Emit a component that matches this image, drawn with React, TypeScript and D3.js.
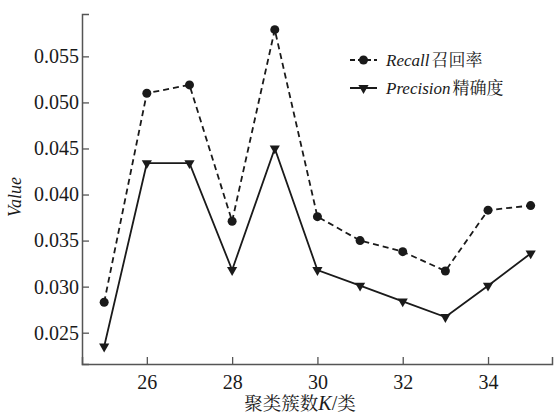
import { useEffect, useRef } from "react";
import * as d3 from "d3";

const clusters = [25, 26, 27, 28, 29, 30, 31, 32, 33, 34, 35];
const recall = [0.0283, 0.051, 0.0519, 0.0371, 0.0579, 0.0376, 0.035, 0.0338, 0.0317, 0.0383, 0.0388];
const precision = [0.0235, 0.0434, 0.0434, 0.0318, 0.045, 0.0318, 0.0301, 0.0284, 0.0267, 0.0301, 0.0336];
const xTickValues = [26, 28, 30, 32, 34];
const yTickValues = [0.025, 0.03, 0.035, 0.04, 0.045, 0.05, 0.055];

const W = 558;
const H = 417;
const MARGIN = { top: 14, right: 6, bottom: 53, left: 82 };
const INK = "#1a1a1a";
const SERIF = "Liberation Serif, Times New Roman, serif";
const CJK = "Noto Serif CJK SC, Noto Sans CJK SC, serif";

function App() {
  const svgRef = useRef<SVGSVGElement>(null);

  useEffect(() => {
    const svg = svgRef.current;
    if (!svg) return;
    d3.select(svg).selectAll("*").remove();

    const width = W - MARGIN.left - MARGIN.right;
    const height = H - MARGIN.top - MARGIN.bottom;

    const root = d3
      .select(svg)
      .append("g")
      .attr("transform", `translate(${MARGIN.left},${MARGIN.top})`);

    const x = d3.scaleLinear().domain([24.48, 35.5]).range([0, width]);
    const y = d3.scaleLinear().domain([0.0216, 0.0596]).range([height, 0]);

    // Axes (ticks point inward)
    const xAxis = d3
      .axisBottom(x)
      .tickValues(xTickValues)
      .tickSizeInner(-7)
      .tickSizeOuter(-7)
      .tickPadding(11)
      .tickFormat(d3.format("d"));

    const yAxis = d3
      .axisLeft(y)
      .tickValues(yTickValues)
      .tickSizeInner(-7)
      .tickSizeOuter(-7)
      .tickPadding(3)
      .tickFormat(d3.format(".3f"));

    const styleAxis = (g: d3.Selection<SVGGElement, unknown, null, undefined>) => {
      g.select(".domain").attr("stroke", "#555").attr("stroke-width", 1.5);
      g.selectAll(".tick line").attr("stroke", "#555").attr("stroke-width", 1.3);
      g.selectAll(".tick text")
        .attr("fill", INK)
        .attr("font-family", SERIF)
        .attr("font-size", "20px");
    };

    root
      .append("g")
      .attr("transform", `translate(0,${height})`)
      .call(xAxis)
      .call(styleAxis);

    root.append("g").call(yAxis).call(styleAxis);

    // Axis labels
    const xl = root
      .append("text")
      .attr("x", 218)
      .attr("y", height + 46)
      .attr("text-anchor", "middle")
      .attr("fill", INK)
      .attr("font-family", CJK)
      .attr("font-size", "18.5px");
    xl.append("tspan").text("聚类簇数");
    xl.append("tspan").attr("font-style", "italic").attr("font-family", SERIF).attr("font-size", "20px").text("K");
    xl.append("tspan").attr("font-family", SERIF).attr("font-size", "20px").text("/");
    xl.append("tspan").text("类");

    root
      .append("text")
      .attr("transform", "rotate(-90)")
      .attr("x", -(197 - MARGIN.top))
      .attr("y", -MARGIN.left + 21)
      .attr("text-anchor", "middle")
      .attr("fill", INK)
      .attr("font-family", SERIF)
      .attr("font-style", "italic")
      .attr("font-size", "18px")
      .text("Value");

    const line = d3
      .line<number>()
      .x((_, i) => x(clusters[i]))
      .y((d) => y(d));

    // Recall (dashed, circles)
    root
      .append("path")
      .datum(recall)
      .attr("fill", "none")
      .attr("stroke", INK)
      .attr("stroke-width", 1.8)
      .attr("stroke-dasharray", "6,4")
      .attr("d", line);

    root
      .append("g")
      .selectAll("circle")
      .data(recall)
      .join("circle")
      .attr("cx", (_, i) => x(clusters[i]))
      .attr("cy", (d) => y(d))
      .attr("r", 4.5)
      .attr("fill", INK);

    // Precision (solid, down triangles)
    root
      .append("path")
      .datum(precision)
      .attr("fill", "none")
      .attr("stroke", INK)
      .attr("stroke-width", 1.8)
      .attr("d", line);

    const tri = d3.symbol().type(d3.symbolTriangle).size(45);
    root
      .append("g")
      .selectAll("path")
      .data(precision)
      .join("path")
      .attr("transform", (d, i) => `translate(${x(clusters[i])},${y(d)}) rotate(180)`)
      .attr("d", tri)
      .attr("fill", INK);

    // Legend
    const lg = root.append("g").attr("transform", `translate(${350 - MARGIN.left},${60 - MARGIN.top})`);
    lg.append("line")
      .attr("x1", 0).attr("x2", 27).attr("y1", 0).attr("y2", 0)
      .attr("stroke", INK).attr("stroke-width", 2).attr("stroke-dasharray", "5,3");
    lg.append("circle").attr("cx", 13.5).attr("cy", 0).attr("r", 4.5).attr("fill", INK);
    const t1 = lg.append("text").attr("x", 36).attr("y", 6).attr("fill", INK).attr("font-size", "17px");
    t1.append("tspan").attr("font-family", SERIF).attr("font-style", "italic").text("Recall");
    t1.append("tspan").attr("font-family", CJK).attr("dx", 2).text("召回率");

    lg.append("line")
      .attr("x1", 0).attr("x2", 27).attr("y1", 28).attr("y2", 28)
      .attr("stroke", INK).attr("stroke-width", 2);
    lg.append("path")
      .attr("transform", "translate(13.5,28) rotate(180)")
      .attr("d", tri)
      .attr("fill", INK);
    const t2 = lg.append("text").attr("x", 36).attr("y", 34).attr("fill", INK).attr("font-size", "17px");
    t2.append("tspan").attr("font-family", SERIF).attr("font-style", "italic").text("Precision");
    t2.append("tspan").attr("font-family", CJK).attr("dx", 2).text("精确度");
  }, []);

  return (
    <div style={{ position: "absolute", left: 0, top: 0, width: W, height: H, background: "#fff" }}>
      <svg ref={svgRef} width={W} height={H} style={{ display: "block" }} />
    </div>
  );
}

export default App;
